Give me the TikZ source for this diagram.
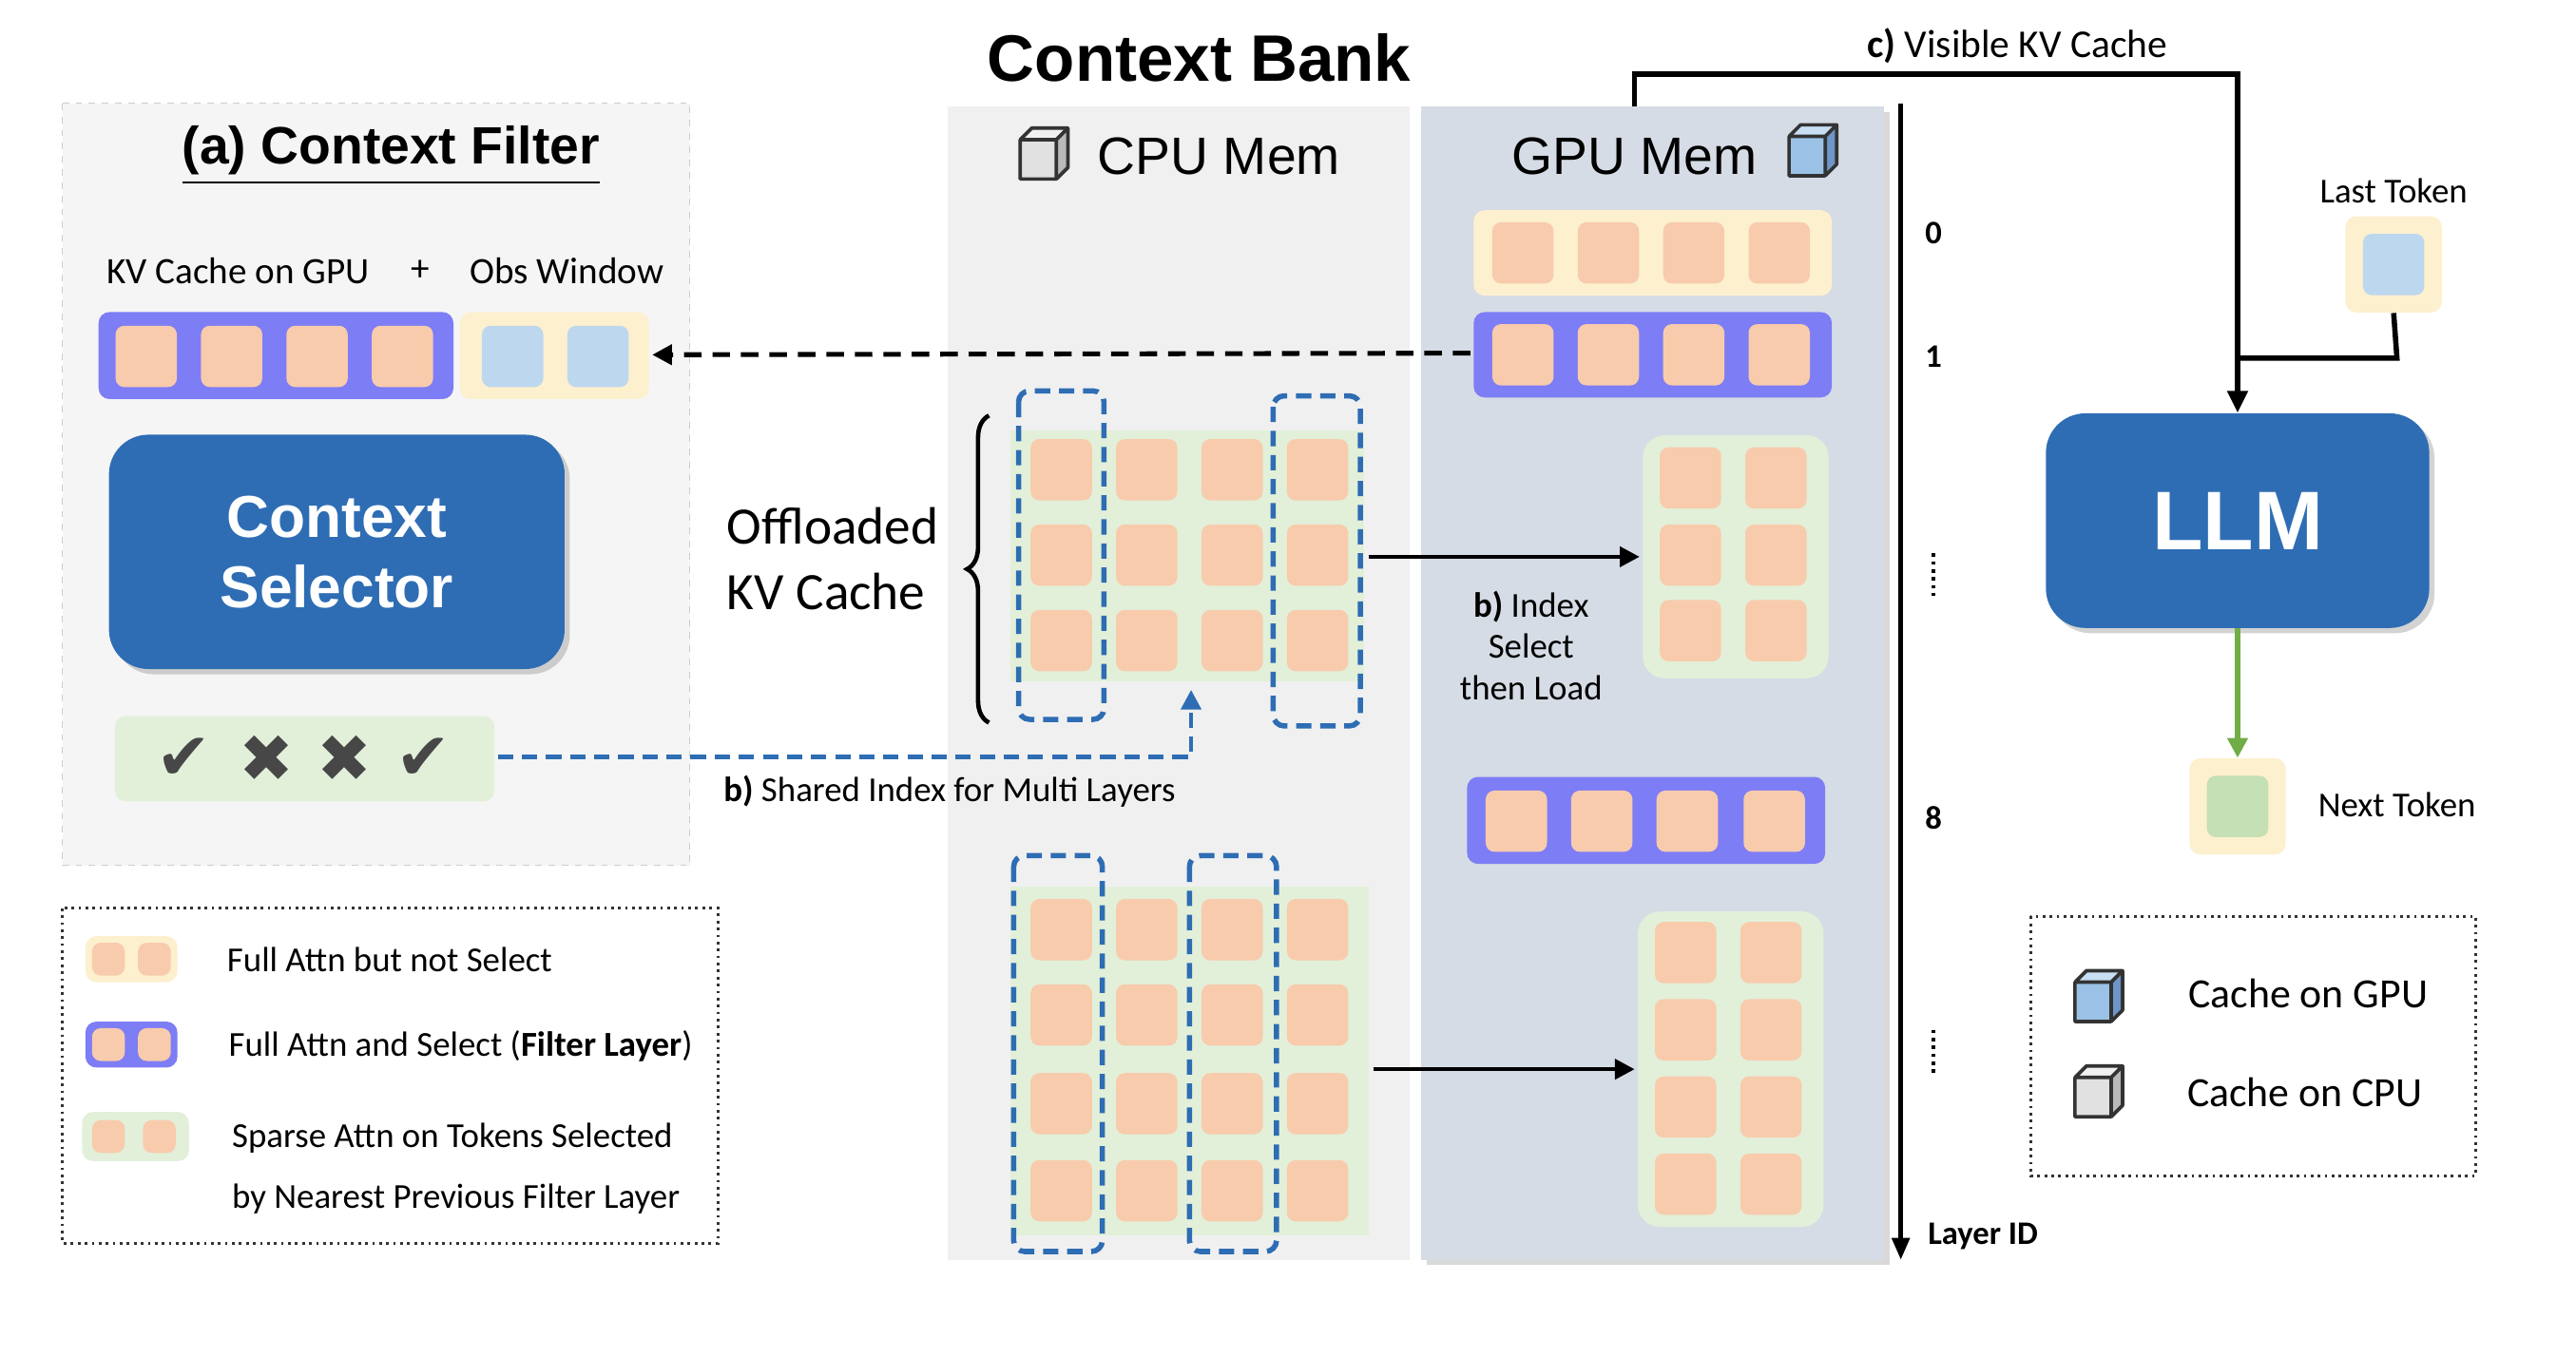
\documentclass[tikz,border=0pt]{standalone}
\usepackage{amssymb}
\usepackage{fontspec}
\setmainfont{Carlito}
\newfontfamily\arialf{Liberation Sans}
\newfontfamily\djv{DejaVu Sans}
\usetikzlibrary{positioning,arrows.meta,shadows,decorations.pathreplacing}
\definecolor{peach}{RGB}{248,203,173}
\definecolor{violet}{RGB}{125,125,245}
\definecolor{cream}{RGB}{253,240,207}
\definecolor{mint}{RGB}{226,240,217}
\definecolor{llmblue}{RGB}{46,109,180}
\definecolor{lblue}{RGB}{189,215,238}
\definecolor{gpubg}{RGB}{214,220,229}
\definecolor{dblue}{RGB}{46,109,180}
\definecolor{tokgreen}{RGB}{197,224,180}
\definecolor{arrgreen}{RGB}{112,173,71}
\definecolor{cubeb}{RGB}{155,194,230}
\definecolor{cubebt}{RGB}{200,222,242}
\definecolor{cubebs}{RGB}{110,150,200}
\definecolor{cubeg}{RGB}{225,225,225}
\definecolor{cubegt}{RGB}{240,240,240}
\definecolor{cubegs}{RGB}{185,185,185}
\tikzset{
  sq/.style={draw=none,fill=peach,rounded corners=4pt,minimum size=28pt,inner sep=0pt},
  bar/.style={draw=none,rounded corners=5pt},
  selbox/.style={draw=dblue,dashed,line width=2.4pt,rounded corners=5pt,dash pattern=on 7pt off 4pt},
  blk/.style={fill=llmblue,rounded corners=18pt,draw=none,drop shadow={opacity=0.35}},
  txt/.style={inner sep=0.75pt,font=\fontsize{16}{19}\selectfont},
}
\newcommand\kvcube[4]{% x, y, colour prefix (front, top t, side s)
  \begin{scope}[shift={(#1,#2)},line width=1.6pt,line join=round]
    \fill[#3] (-13,-10) rectangle (9,14);
    \fill[#3t] (-13,-10) -- (-6,-17) -- (16,-17) -- (9,-10) -- cycle;
    \fill[#3s] (9,-10) -- (16,-17) -- (16,7) -- (9,14) -- cycle;
    \draw[black!80] (-13,-10) rectangle (9,14) (-13,-10) -- (-6,-17) -- (16,-17) -- (9,-10) (16,-17) -- (16,7) -- (9,14);
  \end{scope}}
\begin{document}
\begin{tikzpicture}[x=0.75pt,y=0.75pt,yscale=-1,xscale=1]
\useasboundingbox (0,0) rectangle (1568,826);

% panels
\draw[fill=black!4,draw=black!20,dashed] (38,63) rectangle (420,527);
\fill[black!6] (577,65) rectangle (858,767);
\fill[gpubg,drop shadow={opacity=0.3}] (865,65) rectangle (1147,767);
\node[font=\arialf\bfseries\fontsize{30}{34}\selectfont] (title) at (730,35) {Context Bank};
\node[font=\arialf\bfseries\fontsize{24}{28}\selectfont] (filter) at (238,95) {\underline{(a) Context Filter}};
\node[font=\arialf\fontsize{24}{28}\selectfont] (cpu) at (742,95) {CPU Mem};
\node[font=\arialf\fontsize{24}{28}\selectfont] (gpu) at (995,95) {GPU Mem};
\kvcube{634}{95}{cubeg}{}
\kvcube{1102}{93}{cubeb}{}

% context filter
\node[txt,font=\fontsize{17}{20}\selectfont] (kvg) at (145,165) {KV Cache on GPU};
\node[txt,font=\fontsize{17}{20}\selectfont] (plus) at (256,165) {+};
\node[txt,font=\fontsize{17}{20}\selectfont] (obs) at (345,165) {Obs Window};
\fill[bar,violet] (60,190) rectangle (276,243);
\fill[bar,cream] (280,190) rectangle (395,243);
\foreach \x in {89,141,193,245} \node[sq] at (\x,217) {};
\foreach \x in {312,364} \node[sq,fill=lblue] at (\x,217) {};
\coordinate (obsr) at (397,216);
\node[blk,minimum width=208pt,minimum height=107pt,text=white,align=center,
  font=\arialf\bfseries\fontsize{27}{32}\selectfont] (sel) at (205,336) {Context\\Selector};
\fill[bar,mint] (70,436) rectangle (301,488);
\coordinate (selr) at (303,461);
\foreach \x/\m in {112/✔,162/✖,210/✖,258/✔}
  \node[text=black!72,font=\djv\fontsize{30}{30}\selectfont] at (\x,462) {\m};

% legend left
\draw[dotted,line width=1.2pt,draw=black!80] (38,553) rectangle (437,757);
\fill[bar,cream] (52,570) rectangle (108,598);
\fill[bar,violet] (52,622) rectangle (108,650);
\fill[bar,mint] (50,677) rectangle (115,707);
\foreach \y/\x in {584/66,584/94,636/66,636/94,692/66,692/97} \node[sq,minimum size=15pt] at (\x,\y) {};
\node[txt,anchor=west] (l1) at (137,584) {Full Attn but not Select};
\node[txt,anchor=west] (l2) at (138,637) {Full Attn and Select (\textbf{Filter Layer})};
\node[txt,anchor=west] (l3) at (140,693) {Sparse Attn on Tokens Selected};
\node[txt,anchor=west] (l4) at (140,730) {by Nearest Previous Filter Layer};

% GPU rows
\fill[bar,cream] (897,128) rectangle (1115,180);
\fill[bar,violet] (897,190) rectangle (1115,242);
\foreach \x in {927,979,1031,1083} { \node[sq] at (\x,154) {}; \node[sq] at (\x,216) {}; }
\coordinate (gpu1) at (895,215);
\fill[bar,mint,rounded corners=10pt] (1000,265) rectangle (1113,413);
\foreach \x in {1029,1081} \foreach \y in {291,338,384} \node[sq] at (\x,\y) {};
\coordinate (gblk1) at (998,339);
\fill[bar,violet] (893,473) rectangle (1111,526);
\foreach \x in {923,975,1027,1080} \node[sq] at (\x,500) {};
\fill[bar,mint,rounded corners=10pt] (997,555) rectangle (1110,747);
\foreach \x in {1026,1078} \foreach \y in {580,627,674,721} \node[sq] at (\x,\y) {};
\coordinate (gblk2) at (995,651);

% CPU offloaded blocks
\fill[mint] (615,262) rectangle (830,415);
\foreach \x in {646,698,750,802} \foreach \y in {286,338,390} \node[sq] at (\x,\y) {};
\draw[selbox] (620,238) rectangle (672,438);
\draw[selbox] (775,241) rectangle (828,442);
\coordinate (cblk1) at (833,339);
\coordinate (shared) at (725,420);
\fill[mint] (615,540) rectangle (833,752);
\foreach \x in {646,698,750,802} \foreach \y in {566,618,672,725} \node[sq] at (\x,\y) {};
\draw[selbox] (617,521) rectangle (671,762);
\draw[selbox] (724,521) rectangle (777,762);
\coordinate (cblk2) at (836,651);
\draw[line width=2pt,decorate,decoration={brace,amplitude=10pt}] (602,440) -- (602,253);
\node[txt,align=left,font=\fontsize{24}{30}\selectfont] (off) at (507,340) {Offloaded\\KV Cache};

% connectors
\draw[-{Triangle[length=9pt,width=9pt]},line width=2pt] (cblk1) -- (gblk1);
\draw[-{Triangle[length=9pt,width=9pt]},line width=2pt] (cblk2) -- (gblk2);
\node[txt,align=center] (idx) at (932,393) {\textbf{b)} Index\\Select\\then Load};
\draw[-{Triangle[length=9pt,width=9pt]},line width=2.2pt,dash pattern=on 8pt off 5pt] (gpu1) -- (obsr);
\draw[-{Triangle[length=9pt,width=9pt]},line width=2pt,dblue,dash pattern=on 7pt off 4pt] (selr) -| (shared);
\node[txt] (shlab) at (578,482) {\textbf{b)} Shared Index for Multi Layers};

% layer axis
\coordinate (ax0) at (1157,63);
\coordinate (ax1) at (1157,767);
\draw[-{Triangle[length=10pt,width=8pt]},line width=2pt] (ax0) -- (ax1);
\foreach \y/\t in {142/0,217/1,498/8} \node[txt,font=\bfseries\fontsize{15}{18}\selectfont] at (1177,\y) {\t};
\foreach \y in {350,640} \draw[line width=1.6pt,dotted] (1177,\y-13) -- (1177,\y+13);
\node[txt,font=\bfseries\fontsize{15}{18}\selectfont] (lid) at (1207,753) {Layer ID};

% LLM side
\node[blk,minimum width=175pt,minimum height=98pt,text=white,font=\arialf\bfseries\fontsize{38}{42}\selectfont] (llm) at (1362,317) {LLM};
\coordinate (vis0) at (995,65);
\draw[-{Triangle[length=10pt,width=9pt]},line width=2.4pt] (vis0) -- (995,45) -- (1362,45) -- (llm.north);
\node[txt,font=\fontsize{18}{21}\selectfont] (vis) at (1228,28) {\textbf{c)} Visible KV Cache};
\node[txt] (last) at (1457,116) {Last Token};
\node[bar,fill=cream,minimum size=44pt] (lastbox) at (1457,161) {};
\node[sq,fill=lblue] at (lastbox) {};
\draw[line width=2.4pt] (lastbox.south) -- (1459,218) -- (1362,218);
\node[bar,fill=cream,minimum size=44pt] (nextbox) at (1362,491) {};
\node[sq,fill=tokgreen] at (nextbox) {};
\draw[-{Triangle[length=9pt,width=9pt]},line width=2.2pt,arrgreen] (llm.south) -- (nextbox.north);
\node[txt] (next) at (1459,490) {Next Token};

% legend right
\draw[dotted,line width=1.2pt,draw=black!80] (1236,558) rectangle (1507,716);
\kvcube{1276}{608}{cubeb}{}
\kvcube{1276}{666}{cubeg}{}
\node[txt,font=\fontsize{19}{22}\selectfont] (cg) at (1405,605) {Cache on GPU};
\node[txt,font=\fontsize{19}{22}\selectfont] (cc) at (1403,665) {Cache on CPU};
\end{tikzpicture}
\end{document}
